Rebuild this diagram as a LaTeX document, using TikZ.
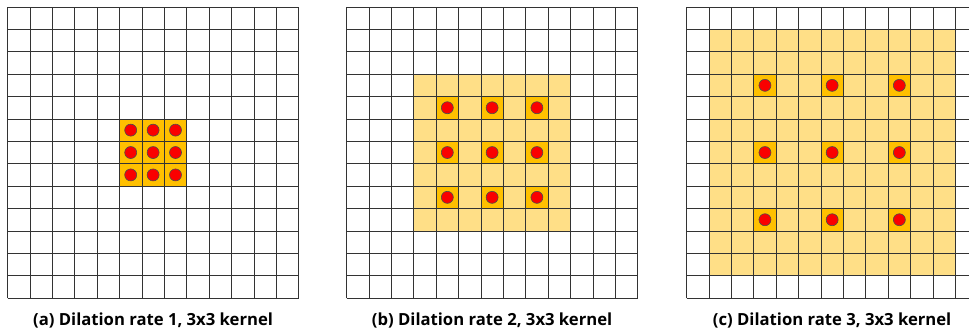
\documentclass[tikz,border=0pt]{standalone}
\usepackage{fontspec}
\setmainfont{Open Sans}
\usetikzlibrary{positioning}
\definecolor{kernelorange}{RGB}{255,192,0}
\definecolor{fieldyellow}{RGB}{255,223,135}
\definecolor{tapred}{RGB}{250,0,0}

\begin{document}
\begin{tikzpicture}[x=16.8pt, y=16.8pt,
    gridline/.style={draw=black!80, line width=0.55pt, step=16.8pt},
    field/.style={fill=fieldyellow},
    kernelcell/.style={fill=kernelorange},
    tap/.style={circle, fill=tapred, draw=black!70, line width=0.45pt, inner sep=0pt, minimum size=9pt},
    caption/.style={font=\bfseries\fontsize{12.5}{15}\selectfont, anchor=base}
]
\useasboundingbox (0,0) rectangle (43.26,14.91);
\clip (0,0) rectangle (43.26,14.91);

% (a) dilation rate 1
\begin{scope}[shift={(0.335,1.6)}]
  \foreach \i in {5,6,7} \foreach \j in {5,6,7} {
    \fill[kernelcell] (\i,\j) rectangle ++(1,1);
  }
  \draw[gridline] (0,0) grid (13,13);
  \foreach \i in {5,6,7} \foreach \j in {5,6,7} {
    \node[tap] (a-\i-\j) at (\i+0.5,\j+0.5) {};
  }
  \node[caption] (capa) at (6.5,-1.2) {(a) Dilation rate 1, 3x3 kernel};
\end{scope}

% (b) dilation rate 2
\begin{scope}[shift={(15.47,1.6)}]
  \fill[field] (3,3) rectangle (10,10);
  \foreach \i in {4,6,8} \foreach \j in {4,6,8} {
    \fill[kernelcell] (\i,\j) rectangle ++(1,1);
  }
  \draw[gridline] (0,0) grid (13,13);
  \foreach \i in {4,6,8} \foreach \j in {4,6,8} {
    \node[tap] (b-\i-\j) at (\i+0.5,\j+0.5) {};
  }
  \node[caption] (capb) at (6.5,-1.2) {(b) Dilation rate 2, 3x3 kernel};
\end{scope}

% (c) dilation rate 3
\begin{scope}[shift={(30.65,1.6)}]
  \fill[field] (1,1) rectangle (12,12);
  \foreach \i in {3,6,9} \foreach \j in {3,6,9} {
    \fill[kernelcell] (\i,\j) rectangle ++(1,1);
  }
  \draw[gridline] (0,0) grid (13,13);
  \foreach \i in {3,6,9} \foreach \j in {3,6,9} {
    \node[tap] (c-\i-\j) at (\i+0.5,\j+0.5) {};
  }
  \node[caption] (capc) at (6.5,-1.2) {(c) Dilation rate 3, 3x3 kernel};
\end{scope}
\end{tikzpicture}
\end{document}
